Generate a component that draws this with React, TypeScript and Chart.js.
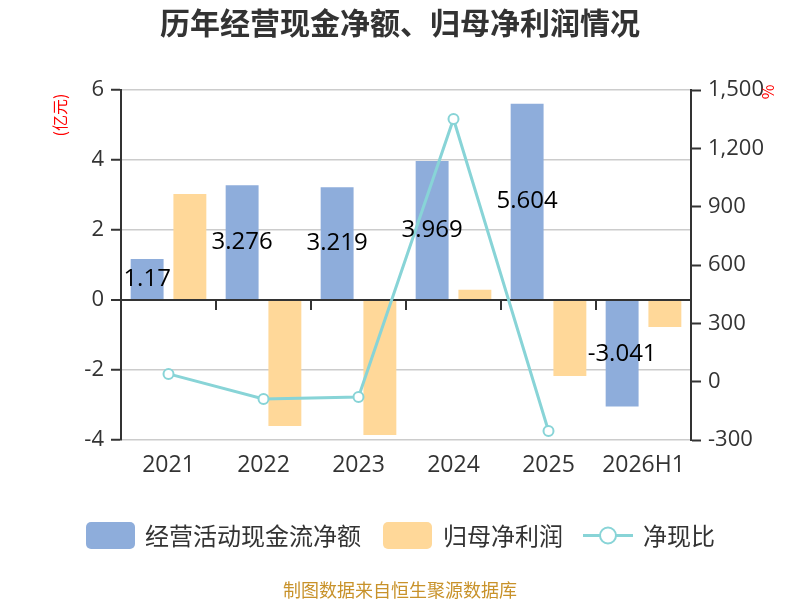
import React, { useRef, useEffect } from 'react';
import Chart from 'chart.js/auto';

// chart data
const categories = ['2021', '2022', '2023', '2024', '2025', '2026H1'];
const cashFlow = [1.17, 3.276, 3.219, 3.969, 5.604, -3.041]; // 经营活动现金流净额 (亿元)
const netProfit = [3.03, -3.6, -3.86, 0.29, -2.17, -0.77]; // 归母净利润 (亿元)
const cashRatio = [40, -89, -79, 1351, -254, null]; // 净现比 (%)

const leftRange = [-4, 6, 2];
const rightRange = [-300, 1500, 300];

const BLUE = '#8EADDB';
const ORANGE = '#FFD899';
const TEAL = '#88D4D7';
const TEXT = '#333333';
const FONT = '"Open Sans", "Noto Sans CJK SC", sans-serif';
const CJK = '"Noto Sans CJK SC", sans-serif';

const decorPlugin = {
    id: 'decor',
    afterDatasetsDraw(chart: any) {
        const { ctx, scales } = chart;
        const x = scales.x;
        const y = scales.y;
        ctx.save();

        // tick marks on the zero line, between categories
        const zeroY = y.getPixelForValue(0);
        const half = (x.getPixelForValue(1) - x.getPixelForValue(0)) / 2;
        ctx.strokeStyle = TEXT;
        ctx.lineWidth = 2;
        for (let i = 1; i < categories.length; i++) {
            const px = Math.round(x.getPixelForValue(i) - half);
            ctx.beginPath();
            ctx.moveTo(px, zeroY);
            ctx.lineTo(px, zeroY + 10);
            ctx.stroke();
        }

        // value labels in the middle of the blue bars
        const meta = chart.getDatasetMeta(0);
        ctx.fillStyle = '#000';
        ctx.font = `24px ${FONT}`;
        ctx.textAlign = 'center';
        ctx.textBaseline = 'middle';
        meta.data.forEach((bar: any, i: number) => {
            ctx.fillText(String(cashFlow[i]), bar.x, (bar.y + bar.base) / 2);
        });
        ctx.restore();
    },
    afterDraw(chart: any) {
        const { ctx } = chart;
        ctx.save();

        // title
        ctx.fillStyle = TEXT;
        ctx.font = `bold 30px ${CJK}`;
        ctx.textAlign = 'center';
        ctx.textBaseline = 'middle';
        ctx.fillText('历年经营现金净额、归母净利润情况', 400, 23);

        // axis units
        ctx.fillStyle = '#FF0000';
        ctx.font = `16px ${CJK}`;
        ctx.save();
        ctx.translate(60, 115);
        ctx.rotate(-Math.PI / 2);
        ctx.fillText('(亿元)', 0, 0);
        ctx.restore();
        ctx.save();
        ctx.translate(768, 92);
        ctx.rotate(-Math.PI / 2);
        ctx.fillText('%', 0, 0);
        ctx.restore();

        // legend
        const ly = 535.5;
        ctx.font = `24px ${CJK}`;
        ctx.textAlign = 'left';
        ctx.fillStyle = BLUE;
        ctx.beginPath();
        ctx.roundRect(86, ly - 13.5, 49, 27, 5);
        ctx.fill();
        ctx.fillStyle = TEXT;
        ctx.fillText('经营活动现金流净额', 145, ly);

        ctx.fillStyle = ORANGE;
        ctx.beginPath();
        ctx.roundRect(383, ly - 13.5, 49, 27, 5);
        ctx.fill();
        ctx.fillStyle = TEXT;
        ctx.fillText('归母净利润', 443, ly);

        ctx.strokeStyle = TEAL;
        ctx.lineWidth = 3;
        ctx.beginPath();
        ctx.moveTo(583, ly);
        ctx.lineTo(633, ly);
        ctx.stroke();
        ctx.fillStyle = '#fff';
        ctx.lineWidth = 2;
        ctx.beginPath();
        ctx.arc(608, ly, 8, 0, Math.PI * 2);
        ctx.fill();
        ctx.stroke();
        ctx.fillStyle = TEXT;
        ctx.fillText('净现比', 643, ly);

        // source
        ctx.fillStyle = '#C8922A';
        ctx.font = `18px ${CJK}`;
        ctx.textAlign = 'center';
        ctx.fillText('制图数据来自恒生聚源数据库', 400, 590);
        ctx.restore();
    },
};

const App = () => {
    const chartRef = useRef<HTMLCanvasElement>(null);
    const chartInstance = useRef<Chart | null>(null);

    useEffect(() => {
        if (!chartRef.current) return;
        const ctx = chartRef.current.getContext('2d');
        if (!ctx) return;
        if (chartInstance.current) chartInstance.current.destroy();

        chartInstance.current = new Chart(ctx, {
            type: 'bar',
            data: {
                labels: categories,
                datasets: [
                    {
                        label: '经营活动现金流净额',
                        data: cashFlow,
                        backgroundColor: BLUE,
                        yAxisID: 'y',
                        order: 2,
                        categoryPercentage: 0.9,
                        barPercentage: 0.77,
                    },
                    {
                        label: '归母净利润',
                        data: netProfit,
                        backgroundColor: ORANGE,
                        yAxisID: 'y',
                        order: 3,
                        categoryPercentage: 0.9,
                        barPercentage: 0.77,
                    },
                    {
                        type: 'line',
                        label: '净现比',
                        data: cashRatio,
                        borderColor: TEAL,
                        borderWidth: 3,
                        pointRadius: 5,
                        pointBorderWidth: 2,
                        pointBackgroundColor: '#fff',
                        pointBorderColor: TEAL,
                        yAxisID: 'y1',
                        order: 1,
                        tension: 0,
                    },
                ] as any,
            },
            options: {
                responsive: false,
                animation: false,
                layout: { padding: { top: 90, bottom: 0, left: 0, right: 0 } },
                plugins: {
                    legend: { display: false },
                    title: { display: false },
                    tooltip: { enabled: false },
                },
                scales: {
                    x: {
                        grid: { display: false, drawTicks: false },
                        border: { display: false },
                        ticks: { color: TEXT, font: { size: 23, family: FONT }, padding: 12 },
                        afterFit: (s: any) => { s.height = 160; },
                    },
                    y: {
                        position: 'left',
                        min: leftRange[0],
                        max: leftRange[1],
                        ticks: { stepSize: leftRange[2], color: TEXT, font: { size: 22, family: FONT }, padding: 7 },
                        grid: {
                            color: (c: any) => (c.tick && c.tick.value === 0 ? TEXT : '#CCCCCC'),
                            lineWidth: (c: any) => (c.tick && c.tick.value === 0 ? 2 : 1.5),
                            tickColor: TEXT,
                            tickWidth: 2,
                            tickLength: 10,
                        },
                        border: { color: TEXT, width: 2 },
                        afterFit: (s: any) => { s.width = 121; },
                    },
                    y1: {
                        position: 'right',
                        min: rightRange[0],
                        max: rightRange[1],
                        ticks: { stepSize: rightRange[2], color: TEXT, font: { size: 22, family: FONT }, padding: 7 },
                        grid: { drawOnChartArea: false, tickColor: TEXT, tickWidth: 2, tickLength: 10 },
                        border: { color: TEXT, width: 2 },
                        afterFit: (s: any) => { s.width = 109; },
                    },
                },
            } as any,
            plugins: [decorPlugin],
        });

        return () => {
            if (chartInstance.current) {
                chartInstance.current.destroy();
                chartInstance.current = null;
            }
        };
    }, []);

    return (
        <div style={{ position: 'fixed', left: 0, top: 0, width: 800, height: 600, background: '#fff' }}>
            <canvas ref={chartRef} width={800} height={600}></canvas>
        </div>
    );
};

export default App;
